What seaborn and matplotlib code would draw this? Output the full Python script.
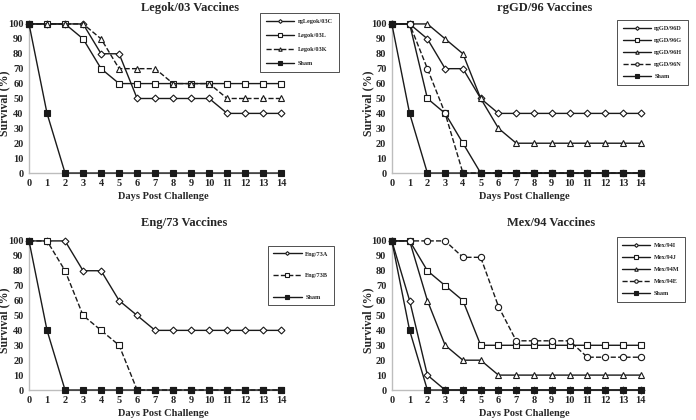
import matplotlib
matplotlib.use("Agg")
import matplotlib.pyplot as plt
import seaborn as sns
import numpy as np
import pandas as pd

sns.set_theme(style="white")
plt.rcParams['font.family'] = ['Liberation Serif', 'DejaVu Serif']
plt.rcParams['font.weight'] = 'bold'

days = list(range(15))

# Legok/03
legok_names = ["rgLegok/03C", "Legok/03L", "Legok/03K", "Sham"]
legok_C = [100, 100, 100, 100, 80, 80, 50, 50, 50, 50, 50, 40, 40, 40, 40]
legok_L = [100, 100, 100, 90, 70, 60, 60, 60, 60, 60, 60, 60, 60, 60, 60]
legok_K = [100, 100, 100, 100, 90, 70, 70, 70, 60, 60, 60, 50, 50, 50, 50]
sham = [100, 40, 0, 0, 0, 0, 0, 0, 0, 0, 0, 0, 0, 0, 0]

# rgGD/96
gd_names = ["rgGD/96D", "rgGD/96G", "rgGD/96H", "rgGD/96N", "Sham"]
gd_D = [100, 100, 90, 70, 70, 50, 40, 40, 40, 40, 40, 40, 40, 40, 40]
gd_G = [100, 100, 50, 40, 20, 0, 0, 0, 0, 0, 0, 0, 0, 0, 0]
gd_H = [100, 100, 100, 90, 80, 50, 30, 20, 20, 20, 20, 20, 20, 20, 20]
gd_N = [100, 100, 70, 40, 0, 0, 0, 0, 0, 0, 0, 0, 0, 0, 0]

# Eng/73
eng_names = ["Eng/73A", "Eng/73B", "Sham"]
eng_A = [100, 100, 100, 80, 80, 60, 50, 40, 40, 40, 40, 40, 40, 40, 40]
eng_B = [100, 100, 80, 50, 40, 30, 0, 0, 0, 0, 0, 0, 0, 0, 0]

# Mex/94
mex_names = ["Mex/94I", "Mex/94J", "Mex/94M", "Mex/94E", "Sham"]
mex_I = [100, 60, 10, 0, 0, 0, 0, 0, 0, 0, 0, 0, 0, 0, 0]
mex_J = [100, 100, 80, 70, 60, 30, 30, 30, 30, 30, 30, 30, 30, 30, 30]
mex_M = [100, 100, 60, 30, 20, 20, 10, 10, 10, 10, 10, 10, 10, 10, 10]
mex_E = [100, 100, 100, 100, 89, 89, 56, 33, 33, 33, 33, 22, 22, 22, 22]

titles = ["Legok/03 Vaccines", "rgGD/96 Vaccines", "Eng/73 Vaccines", "Mex/94 Vaccines"]

# style: (marker, linestyle, filled, size)
panels = [
    (legok_names, [legok_C, legok_L, legok_K, sham],
     [("D", "-", False, 3.5), ("s", "-", False, 4.5), ("^", "--", False, 4.5), ("s", "-", True, 4.5)]),
    (gd_names, [gd_D, gd_G, gd_H, gd_N, sham],
     [("D", "-", False, 3.5), ("s", "-", False, 4.5), ("^", "-", False, 4.5), ("o", "--", False, 4.5), ("s", "-", True, 4.5)]),
    (eng_names, [eng_A, eng_B, sham],
     [("D", "-", False, 3.5), ("s", "--", False, 4.5), ("s", "-", True, 4.5)]),
    (mex_names, [mex_I, mex_J, mex_M, mex_E, sham],
     [("D", "-", False, 3.5), ("s", "-", False, 4.5), ("^", "-", False, 4.5), ("o", "--", False, 4.5), ("s", "-", True, 4.5)]),
]

positions = [
    [0.0417, 0.588, 0.365, 0.355],
    [0.563, 0.588, 0.360, 0.355],
    [0.0417, 0.0714, 0.365, 0.355],
    [0.563, 0.0714, 0.360, 0.355],
]
legend_boxes = [
    (263, 13, 336, 72),
    (623, 20, 682, 85),
    (269, 242, 333, 309),
    (621, 237, 681, 302),
]
legend_spacing = [1.4, 1.05, 2.6, 1.05]
title_x = [0.634, 0.61, 0.61, 0.637]
title_pad = [9, 9, 11, 11]

fig = plt.figure(figsize=(6.96, 4.2), dpi=100)
W, H = 696, 420
line_col = "#1a1a1a"

for i, (names, series, styles) in enumerate(panels):
    ax = fig.add_axes(positions[i])
    for name, vals, (mk, ls, filled, ms) in zip(names, series, styles):
        df = pd.DataFrame({"day": days, "surv": vals})
        is_sham = name == "Sham"
        sns.lineplot(data=df, x="day", y="surv", ax=ax, label=name,
                     color=line_col, linestyle=ls, linewidth=1.0,
                     marker=mk, markersize=ms,
                     markerfacecolor=line_col if filled else "white",
                     markeredgecolor=line_col, markeredgewidth=0.8,
                     zorder=5 if is_sham else 3, clip_on=False)
    ax.set_xlim(0, 14.1)
    ax.set_ylim(0, 100)
    ax.set_xticks(days)
    ax.set_yticks(range(0, 101, 10))
    ax.tick_params(axis="both", labelsize=7.5, length=0, pad=4)
    for lab in ax.get_xticklabels() + ax.get_yticklabels():
        lab.set_fontweight("bold")
    for s in ["top", "right"]:
        ax.spines[s].set_visible(False)
    for s in ["left", "bottom"]:
        ax.spines[s].set_color("#bdbdbd")
        ax.spines[s].set_linewidth(1.0)
    ax.set_xlabel("Days Post Challenge", fontsize=7.5, fontweight="bold")
    ax.xaxis.set_label_coords(0.53, -0.125)
    ax.set_ylabel("Survival (%)", fontsize=8.5, fontweight="bold")
    ax.yaxis.set_label_coords(-0.072, 0.47)
    ax.set_title(titles[i], fontsize=9, fontweight="bold", pad=title_pad[i], x=title_x[i])
    ax.grid(False)

    x0, y0, x1, y1 = legend_boxes[i]
    fx0 = x0 / W
    fy0 = 1 - y1 / H
    fw = (x1 - x0) / W
    fh = (y1 - y0) / H
    leg = ax.legend(loc="center", bbox_to_anchor=(fx0, fy0, fw, fh),
                    bbox_transform=fig.transFigure, fontsize=4.5,
                    frameon=True, fancybox=False, framealpha=1,
                    edgecolor="#333333", handlelength=4.5, markerscale=0.55,
                    labelspacing=legend_spacing[i], borderpad=0.9,
                    handletextpad=0.6)
    leg.get_frame().set_linewidth(0.6)
    for t in leg.get_texts():
        t.set_fontweight("bold")

fig.savefig("out.png", dpi=100)
